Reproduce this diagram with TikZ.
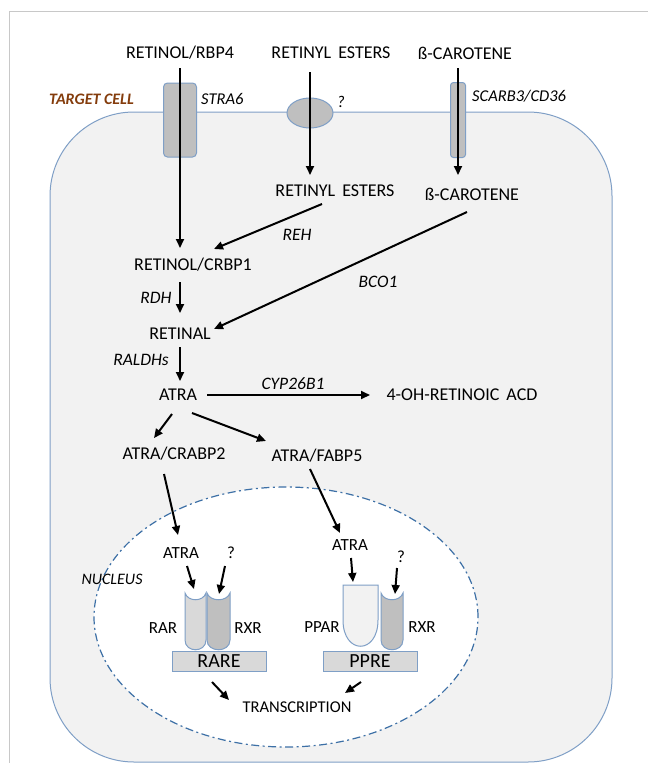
\documentclass[tikz,border=0pt]{standalone}
\usepackage{fontspec}
\setmainfont{Carlito}
\usetikzlibrary{arrows.meta,shapes.geometric}
\definecolor{cellfill}{HTML}{F2F2F2}
\definecolor{cellline}{HTML}{7F9FC6}
\definecolor{boxgray}{HTML}{BFBFBF}
\definecolor{ltgray}{HTML}{D9D9D9}
\definecolor{nucblue}{HTML}{3D70A6}
\definecolor{cellbrown}{HTML}{843C0C}
\definecolor{framegray}{HTML}{C8C8C8}

\begin{document}
\begin{tikzpicture}[x=1pt,y=-1pt,
		arr/.style={line width=2pt,-{Triangle[length=9pt,width=8pt]}},
		mol/.style={font=\fontsize{18}{20}\selectfont,inner sep=2pt},
		nmol/.style={font=\fontsize{17}{19}\selectfont,inner sep=2pt},
		enz/.style={font=\fontsize{17.5}{19}\selectfont\itshape,inner sep=1pt},
		memlbl/.style={font=\fontsize{16.5}{18}\selectfont\itshape,inner sep=1pt,anchor=west},
		memb/.style={draw=cellline,fill=boxgray,line width=1pt},
		prot/.style={draw=cellline,line width=1pt},
		dna/.style={draw=cellline,fill=ltgray,line width=1pt,minimum width=94pt,minimum height=20pt,inner sep=0pt,font=\fontsize{20}{22}\selectfont}]
			\useasboundingbox (0,0) rectangle (648,763);
			\draw[framegray,line width=0.8pt] (9,763) -- (9,11) -- (648,11);
			
			% cell and nucleus
			\draw[draw=cellline,fill=cellfill,line width=1pt,rounded corners=84pt] (50,112) rectangle (612,762);
			\draw[nucblue,fill=white,line width=1.2pt,dash pattern=on 8pt off 3.5pt on 2pt off 3.5pt] (286,617) ellipse [x radius=192pt,y radius=130pt];
			
			% membrane proteins
			\node[memb,rounded corners=4pt,minimum width=33pt,minimum height=74pt] (stra6) at (180,120) {};
			\node[memb,ellipse,minimum width=46pt,minimum height=30pt,inner sep=0pt] (pore) at (310,113) {};
			\node[memb,rounded corners=3pt,minimum width=15pt,minimum height=75pt,inner sep=0pt] (scarb) at (458,120) {};
			\node[memlbl] (stra6lbl) at (200,99) {STRA6};
			\node[memlbl] (porelbl) at (336,102) {?};
			\node[memlbl] (scarblbl) at (471,96) {SCARB3/CD36};
			\node[anchor=west,text=cellbrown,inner sep=0pt,font=\fontsize{16}{18}\selectfont\bfseries\itshape] (cell) at (49,99) {TARGET CELL};
			
			% metabolites
			\node[mol] (rbp4) at (180,53) {RETINOL/RBP4};
			\node[mol] (esters) at (331,53) {RETINYL\, ESTERS};
			\node[mol] (bcar) at (465,53) {ß-CAROTENE};
			\node[mol] (esters2) at (335,191) {RETINYL\, ESTERS};
			\node[mol] (bcar2) at (472,194) {ß-CAROTENE};
			\node[mol] (crbp1) at (193,265) {RETINOL/CRBP1};
			\node[mol] (retinal) at (180,334) {RETINAL};
			\node[mol] (atra) at (178,395) {ATRA};
			\node[mol] (ohra) at (462,395) {4-OH-RETINOIC\, ACD};
			\node[mol] (crabp2) at (174,454) {ATRA/CRABP2};
			\node[mol] (fabp5) at (317,456) {ATRA/FABP5};
			
			% enzymes
			\node[enz] (reh) at (297,235) {REH};
			\node[enz] (bco1) at (378,282) {BCO1};
			\node[enz] (rdh) at (156,298) {RDH};
			\node[enz] (raldh) at (141,360) {RALDHs};
			\node[enz] (cyp) at (293,384) {CYP26B1};
			
			% nucleus content
			\node[font=\fontsize{16}{18}\selectfont\itshape,inner sep=0pt] (nuclbl) at (112,579) {NUCLEUS};
			\node[nmol] (atran1) at (181,553) {ATRA};
			\node[nmol] (q1) at (231,553) {?};
			\node[nmol] (atran2) at (350,545) {ATRA};
			\node[nmol] (q2) at (401,557) {?};
			\draw[prot,fill=ltgray] (185,593) -- (185,640) .. controls (185,653) and (206,653) .. (206,640) -- (206,593) .. controls (203,602) and (188,602) .. cycle;
			\draw[prot,fill=boxgray] (207,593) -- (207,640) .. controls (207,653) and (230,653) .. (230,640) -- (230,593) .. controls (227,602) and (210,602) .. cycle;
			\draw[prot,fill=cellfill] (343,585) -- (343,620) .. controls (343,655) and (378,655) .. (378,620) -- (378,585) -- cycle;
			\draw[prot,fill=boxgray] (381,593) -- (381,640) .. controls (381,653) and (403,653) .. (403,640) -- (403,593) .. controls (400,602) and (384,602) .. cycle;
			\coordinate (rartop) at (194,589);
			\coordinate (rxrtop) at (219,594);
			\coordinate (ppartop) at (353,582);
			\coordinate (rxr2top) at (395,594);
			\node[nmol] (rar) at (163,628) {RAR};
			\node[nmol] (rxr) at (248,628) {RXR};
			\node[nmol] (ppar) at (322,627) {PPAR};
			\node[nmol] (rxr2) at (422,627) {RXR};
			\node[dna] (rare) at (219,661) {RARE};
			\node[dna] (ppre) at (370,661) {PPRE};
			\node[font=\fontsize{16.5}{18}\selectfont,inner sep=2pt] (transc) at (297,707) {TRANSCRIPTION};
			
			% arrows
			\draw[arr] ([shift={(0,15)}]rbp4.center) -- ([shift={(-13,-17)}]crbp1.center);
			\draw[arr] ([shift={(-21,19)}]esters.center) -- ([shift={(-25,-16)}]esters2.center);
			\draw[arr] ([shift={(-7,15)}]bcar.center) -- ([shift={(-14,-19)}]bcar2.center);
			\draw[arr] ([shift={(-13,13)}]esters2.center) -- ([shift={(21,-16)}]crbp1.center);
			\draw[arr] ([shift={(-5,18)}]bcar2.center) -- ([shift={(34,-5)}]retinal.center);
			\draw[arr] ([shift={(-13,17)}]crbp1.center) -- ([shift={(0,-21)}]retinal.center);
			\draw[arr] ([shift={(0,13)}]retinal.center) -- ([shift={(2,-14)}]atra.center);
			\draw[arr] ([shift={(29,0)}]atra.center) -- ([shift={(-92,0)}]ohra.center);
			\draw[arr] ([shift={(-6,19)}]atra.center) -- ([shift={(-20,-16)}]crabp2.center);
			\draw[arr] ([shift={(14,18)}]atra.center) -- ([shift={(-51,-15)}]fabp5.center);
			\draw[arr] ([shift={(-10,20)}]crabp2.center) -- ([shift={(-3,-18)}]atran1.center);
			\draw[arr] ([shift={(-7,13)}]fabp5.center) -- ([shift={(-10,-12)}]atran2.center);
			\draw[arr] ([shift={(6,13)}]atran1.center) -- (rartop);
			\draw[arr] ([shift={(-6,13)}]q1.center) -- (rxrtop);
			\draw[arr] ([shift={(1,13)}]atran2.center) -- (ppartop);
			\draw[arr] ([shift={(-4,11)}]q2.center) -- (rxr2top);
			\draw[arr] ([shift={(-7,21)}]rare.center) -- ([shift={(-68,-7)}]transc.center);
			\draw[arr] ([shift={(-9,21)}]ppre.center) -- ([shift={(48,-14)}]transc.center);
		\end{tikzpicture}
\end{document}
